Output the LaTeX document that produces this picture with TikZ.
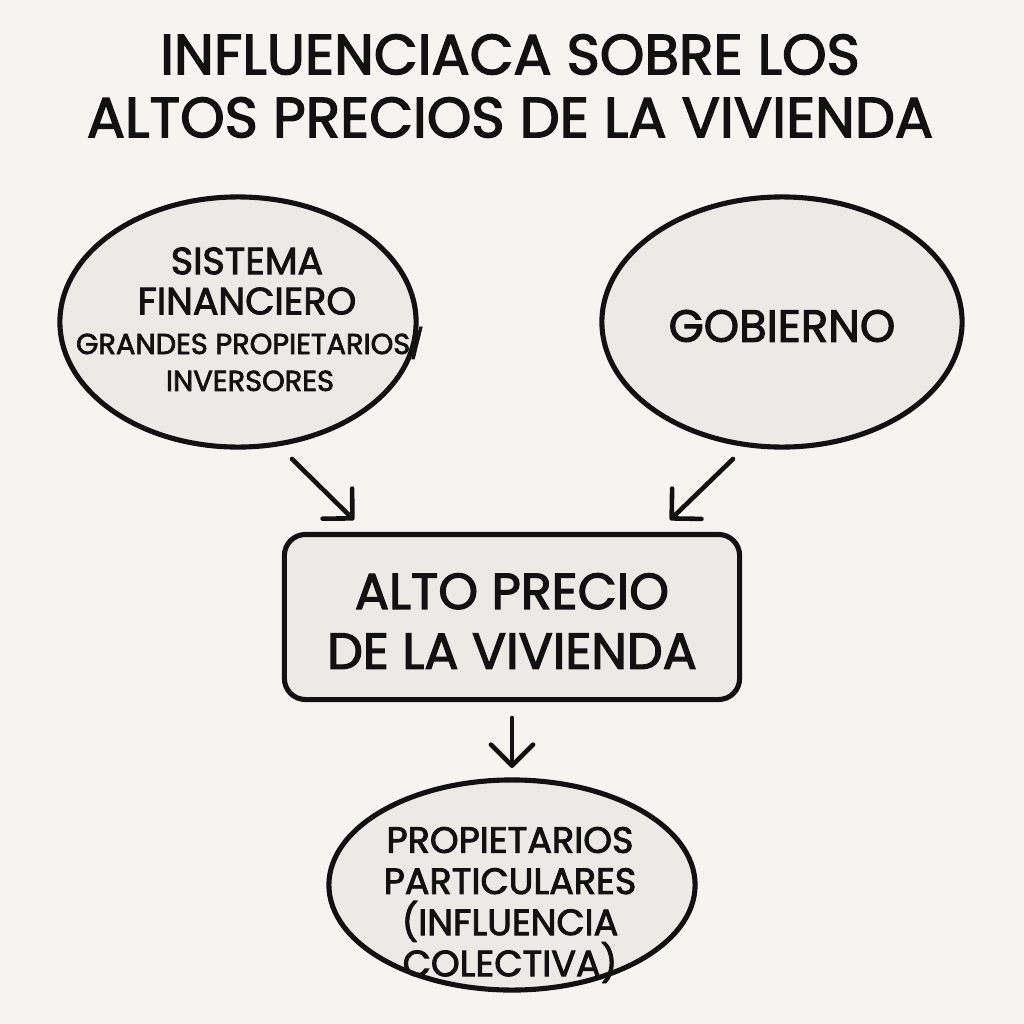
\documentclass[tikz,border=0pt]{standalone}
\usepackage{fontspec}
\setmainfont{Poppins}[AutoFakeBold=2.4]
\usetikzlibrary{arrows.meta,shapes.geometric}
\definecolor{bg}{HTML}{F5F4F1}
\definecolor{shapefill}{HTML}{ECEAE6}
\definecolor{ink}{HTML}{111111}
\begin{document}
\begin{tikzpicture}[x=0.01cm,y=-0.01cm,
  shp/.style={draw=ink,line width=1.45pt,fill=shapefill,inner sep=0pt},
  oval/.style={shp,ellipse},
  conn/.style={draw=ink,line width=1.3pt,line cap=round,-{Straight Barb[length=6pt,width=12pt,line width=1.3pt,round]}},
  txt/.style={text=ink,align=center}
]
\fill[bg] (0,0) rectangle (1024,1024);
\useasboundingbox (0,0) rectangle (1024,1024);
% title
\node[txt,font=\fontsize{16.1pt}{17.9pt}\selectfont\bfseries] (title) at (510,86)
  {INFLUENCIACA SOBRE LOS\\ALTOS PRECIOS DE LA VIVIENDA};
% shapes
\node[oval,minimum width=3.56cm,minimum height=2.5cm] (fin) at (238,322) {};
\node[txt,font=\fontsize{10.8pt}{11.4pt}\selectfont\bfseries] (fintxt) at (247,281) {SISTEMA\\FINANCIERO};
\node[txt,font=\fontsize{8.2pt}{10.5pt}\selectfont\bfseries] (invtxt) at (250,359) {GRANDES PROPIETARIOS/\\INVERSORES};
\node[oval,minimum width=3.60cm,minimum height=2.5cm] (gob) at (782,322) {};
\node[txt,font=\fontsize{12.8pt}{16pt}\selectfont\bfseries] (gobtxt) at (782,326) {GOBIERNO};
\node[shp,rounded corners=6pt,minimum width=4.55cm,minimum height=1.65cm] (box) at (512,617) {};
\node[txt,font=\fontsize{14.4pt}{17pt}\selectfont\bfseries] (boxtxt) at (512,621) {ALTO PRECIO\\DE LA VIVIENDA};
\node[oval,minimum width=3.66cm,minimum height=2.1cm] (prop) at (512,885) {};
\node[txt,font=\fontsize{10.4pt}{11.7pt}\selectfont\bfseries] (proptxt) at (510,905) {PROPIETARIOS\\PARTICULARES\\(INFLUENCIA\\COLECTIVA)};
% connector end points
\coordinate (a1) at (292,459);
\coordinate (a2) at (354,520);
\coordinate (b1) at (733,459);
\coordinate (b2) at (670,520);
\coordinate (c1) at (512,718);
\coordinate (c2) at (512,768);
\draw[conn] (a1) -- (a2);
\draw[conn] (b1) -- (b2);
\draw[conn] (c1) -- (c2);
\end{tikzpicture}
\end{document}
